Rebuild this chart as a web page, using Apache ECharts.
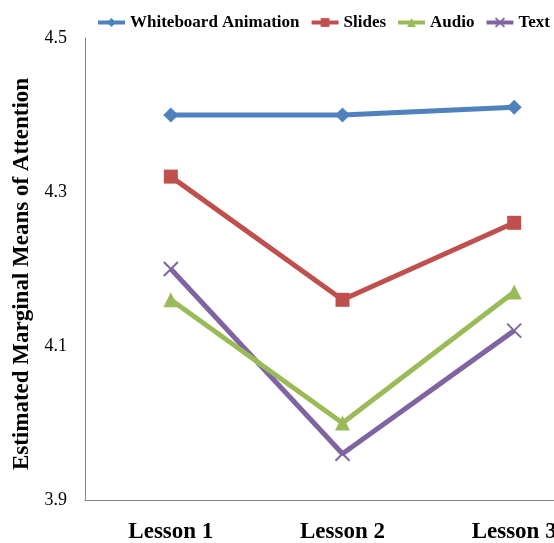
<!DOCTYPE html>
<html>
<head>
<meta charset="utf-8">
<script src="https://cdn.jsdelivr.net/npm/echarts@6/dist/echarts.min.js"></script>
<style>html,body{margin:0;padding:0;background:#fff}#c{width:554px;height:543px}</style>
</head>
<body>
<div id="c"></div>
<script>
var categories = ['Lesson 1', 'Lesson 2', 'Lesson 3'];
var seriesNames = ['Whiteboard Animation', 'Slides', 'Audio', 'Text'];
var whiteboard = [4.40, 4.40, 4.41];
var slides = [4.32, 4.16, 4.26];
var audio = [4.16, 4.00, 4.17];
var text = [4.20, 3.96, 4.12];
var yTicks = [3.9, 4.1, 4.3, 4.5];

var colors = ['#4F81BD', '#C0504D', '#9BBB59', '#8064A2'];
var symbols = ['diamond', 'rect', 'triangle', 'path://M0,0L10,10M10,0L0,10'];
var sizes = [15, 14, 15, 14];
var values = [whiteboard, slides, audio, text];
var serif = '"Liberation Serif","Times New Roman",serif';

var series = seriesNames.map(function (n, i) {
  return {
    name: n,
    type: 'line',
    data: values[i],
    symbol: symbols[i],
    symbolSize: sizes[i],
    showAllSymbol: true,
    lineStyle: { color: colors[i], width: 5 },
    itemStyle: { color: colors[i], borderColor: colors[i], borderWidth: i === 3 ? 2 : 0 },
    z: 10 - i
  };
});

var chart = echarts.init(document.getElementById('c'));
chart.setOption({
  animation: false,
  color: colors,
  legend: {
    data: seriesNames,
    left: 91,
    top: 9,
    width: 600,
    itemGap: 10,
    itemWidth: 27,
    itemHeight: 11,
    lineStyle: { width: 4 },
    textStyle: { fontFamily: serif, fontWeight: 'bold', fontSize: 17, color: '#000' }
  },
  grid: { left: 85, top: 38, width: 515, height: 462, containLabel: false, outerBoundsMode: 'none' },
  xAxis: {
    type: 'category',
    data: categories,
    boundaryGap: true,
    axisLine: { lineStyle: { color: '#888', width: 1 } },
    axisTick: { show: false },
    axisLabel: { fontFamily: serif, fontWeight: 'bold', fontSize: 23, color: '#000', margin: 21 }
  },
  yAxis: {
    type: 'value',
    min: yTicks[0],
    max: yTicks[yTicks.length - 1],
    interval: 0.2,
    name: 'Estimated Marginal Means of Attention',
    nameLocation: 'middle',
    nameGap: 51,
    nameTextStyle: { fontFamily: serif, fontWeight: 'bold', fontSize: 23, color: '#000', padding: [0, 10, 0, 0] },
    axisLine: { show: true, lineStyle: { color: '#888', width: 1 } },
    axisTick: { show: false },
    splitLine: { show: false },
    axisLabel: {
      fontFamily: serif, fontSize: 18, color: '#000', margin: 18,
      formatter: function (v) { return v.toFixed(1); }
    }
  },
  series: series
});
</script>
</body>
</html>
